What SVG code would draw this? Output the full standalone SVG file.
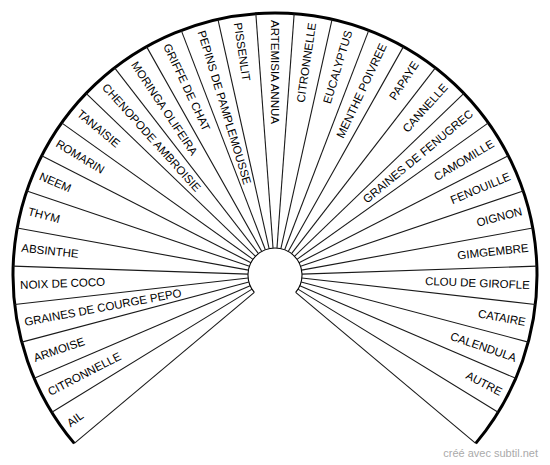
<svg xmlns="http://www.w3.org/2000/svg" width="550" height="465" viewBox="0 0 550 465">
<style>
.lbl{font-family:"Liberation Sans",Arial,sans-serif;font-size:11.5px;fill:#000}
.l{text-anchor:start}
.r{text-anchor:end}
.div line{stroke:#1a1a1a;stroke-width:1.1}
.wm{font-family:"Liberation Sans",Arial,sans-serif;font-size:11px;fill:#aaa}
</style>
<rect width="550" height="465" fill="#fff"/>
<g id="frame" fill="none" stroke="#000">
<path d="M74.30,443.41 A262,262 0 1 1 475.70,443.41" stroke-width="3"/>
<path d="M254.32,292.36 A27,27 0 1 1 295.68,292.36" stroke-width="1.1"/>
</g>
<g id="connectors" class="div" transform="translate(275,275)">
<line x1="27" y1="0" x2="262" y2="0" transform="rotate(140)"/>
<line x1="27" y1="0" x2="262" y2="0" transform="rotate(148.387)"/>
<line x1="27" y1="0" x2="262" y2="0" transform="rotate(156.774)"/>
<line x1="27" y1="0" x2="262" y2="0" transform="rotate(165.161)"/>
<line x1="27" y1="0" x2="262" y2="0" transform="rotate(173.548)"/>
<line x1="27" y1="0" x2="262" y2="0" transform="rotate(181.935)"/>
<line x1="27" y1="0" x2="262" y2="0" transform="rotate(190.323)"/>
<line x1="27" y1="0" x2="262" y2="0" transform="rotate(198.710)"/>
<line x1="27" y1="0" x2="262" y2="0" transform="rotate(207.097)"/>
<line x1="27" y1="0" x2="262" y2="0" transform="rotate(215.484)"/>
<line x1="27" y1="0" x2="262" y2="0" transform="rotate(223.871)"/>
<line x1="27" y1="0" x2="262" y2="0" transform="rotate(232.258)"/>
<line x1="27" y1="0" x2="262" y2="0" transform="rotate(240.645)"/>
<line x1="27" y1="0" x2="262" y2="0" transform="rotate(249.032)"/>
<line x1="27" y1="0" x2="262" y2="0" transform="rotate(257.419)"/>
<line x1="27" y1="0" x2="262" y2="0" transform="rotate(265.806)"/>
<line x1="27" y1="0" x2="262" y2="0" transform="rotate(274.194)"/>
<line x1="27" y1="0" x2="262" y2="0" transform="rotate(282.581)"/>
<line x1="27" y1="0" x2="262" y2="0" transform="rotate(290.968)"/>
<line x1="27" y1="0" x2="262" y2="0" transform="rotate(299.355)"/>
<line x1="27" y1="0" x2="262" y2="0" transform="rotate(307.742)"/>
<line x1="27" y1="0" x2="262" y2="0" transform="rotate(316.129)"/>
<line x1="27" y1="0" x2="262" y2="0" transform="rotate(324.516)"/>
<line x1="27" y1="0" x2="262" y2="0" transform="rotate(332.903)"/>
<line x1="27" y1="0" x2="262" y2="0" transform="rotate(341.290)"/>
<line x1="27" y1="0" x2="262" y2="0" transform="rotate(349.677)"/>
<line x1="27" y1="0" x2="262" y2="0" transform="rotate(358.065)"/>
<line x1="27" y1="0" x2="262" y2="0" transform="rotate(366.452)"/>
<line x1="27" y1="0" x2="262" y2="0" transform="rotate(374.839)"/>
<line x1="27" y1="0" x2="262" y2="0" transform="rotate(383.226)"/>
<line x1="27" y1="0" x2="262" y2="0" transform="rotate(391.613)"/>
<line x1="27" y1="0" x2="262" y2="0" transform="rotate(400)"/>
</g>
<g id="n1"><text class="lbl l" x="-255" dy="4" transform="translate(275,275) rotate(324.194)">AIL</text></g>
<g id="n2"><text class="lbl l" x="-255" dy="4" transform="translate(275,275) rotate(332.581)">CITRONNELLE</text></g>
<g id="n3"><text class="lbl l" x="-255" dy="4" transform="translate(275,275) rotate(340.968)">ARMOISE</text></g>
<g id="n4"><text class="lbl l" x="-255" dy="4" transform="translate(275,275) rotate(349.355)">GRAINES DE COURGE PEPO</text></g>
<g id="n5"><text class="lbl l" x="-255" dy="4" transform="translate(275,275) rotate(357.742)">NOIX DE COCO</text></g>
<g id="n6"><text class="lbl l" x="-255" dy="4" transform="translate(275,275) rotate(366.129)">ABSINTHE</text></g>
<g id="n7"><text class="lbl l" x="-255" dy="4" transform="translate(275,275) rotate(374.516)">THYM</text></g>
<g id="n8"><text class="lbl l" x="-255" dy="4" transform="translate(275,275) rotate(382.903)">NEEM</text></g>
<g id="n9"><text class="lbl l" x="-255" dy="4" transform="translate(275,275) rotate(391.290)">ROMARIN</text></g>
<g id="n10"><text class="lbl l" x="-255" dy="4" transform="translate(275,275) rotate(399.677)">TANAISIE</text></g>
<g id="n11"><text class="lbl l" x="-255" dy="4" transform="translate(275,275) rotate(408.065)">CHENOPODE AMBROISIE</text></g>
<g id="n12"><text class="lbl l" x="-255" dy="4" transform="translate(275,275) rotate(416.452)">MORINGA OLIFEIRA</text></g>
<g id="n13"><text class="lbl l" x="-255" dy="4" transform="translate(275,275) rotate(424.839)">GRIFFE DE CHAT</text></g>
<g id="n14"><text class="lbl l" x="-255" dy="4" transform="translate(275,275) rotate(433.226)">PEPINS DE PAMPLEMOUSSE</text></g>
<g id="n15"><text class="lbl l" x="-255" dy="4" transform="translate(275,275) rotate(441.613)">PISSENLIT</text></g>
<g id="n16"><text class="lbl l" x="-255" dy="4" transform="translate(275,275) rotate(450)">ARTEMISIA ANNUA</text></g>
<g id="n17"><text class="lbl r" x="255" dy="4" transform="translate(275,275) rotate(278.387)">CITRONNELLE</text></g>
<g id="n18"><text class="lbl r" x="255" dy="4" transform="translate(275,275) rotate(286.774)">EUCALYPTUS</text></g>
<g id="n19"><text class="lbl r" x="255" dy="4" transform="translate(275,275) rotate(295.161)">MENTHE POIVREE</text></g>
<g id="n20"><text class="lbl r" x="255" dy="4" transform="translate(275,275) rotate(303.548)">PAPAYE</text></g>
<g id="n21"><text class="lbl r" x="255" dy="4" transform="translate(275,275) rotate(311.935)">CANNELLE</text></g>
<g id="n22"><text class="lbl r" x="255" dy="4" transform="translate(275,275) rotate(320.323)">GRAINES DE FENUGREC</text></g>
<g id="n23"><text class="lbl r" x="255" dy="4" transform="translate(275,275) rotate(328.710)">CAMOMILLE</text></g>
<g id="n24"><text class="lbl r" x="255" dy="4" transform="translate(275,275) rotate(337.097)">FENOUILLE</text></g>
<g id="n25"><text class="lbl r" x="255" dy="4" transform="translate(275,275) rotate(345.484)">OIGNON</text></g>
<g id="n26"><text class="lbl r" x="255" dy="4" transform="translate(275,275) rotate(353.871)">GIMGEMBRE</text></g>
<g id="n27"><text class="lbl r" x="255" dy="4" transform="translate(275,275) rotate(362.258)">CLOU DE GIROFLE</text></g>
<g id="n28"><text class="lbl r" x="255" dy="4" transform="translate(275,275) rotate(370.645)">CATAIRE</text></g>
<g id="n29"><text class="lbl r" x="255" dy="4" transform="translate(275,275) rotate(379.032)">CALENDULA</text></g>
<g id="n30"><text class="lbl r" x="255" dy="4" transform="translate(275,275) rotate(387.419)">AUTRE</text></g>
<text class="wm" x="538" y="457" text-anchor="end">créé avec subtil.net</text>
</svg>
